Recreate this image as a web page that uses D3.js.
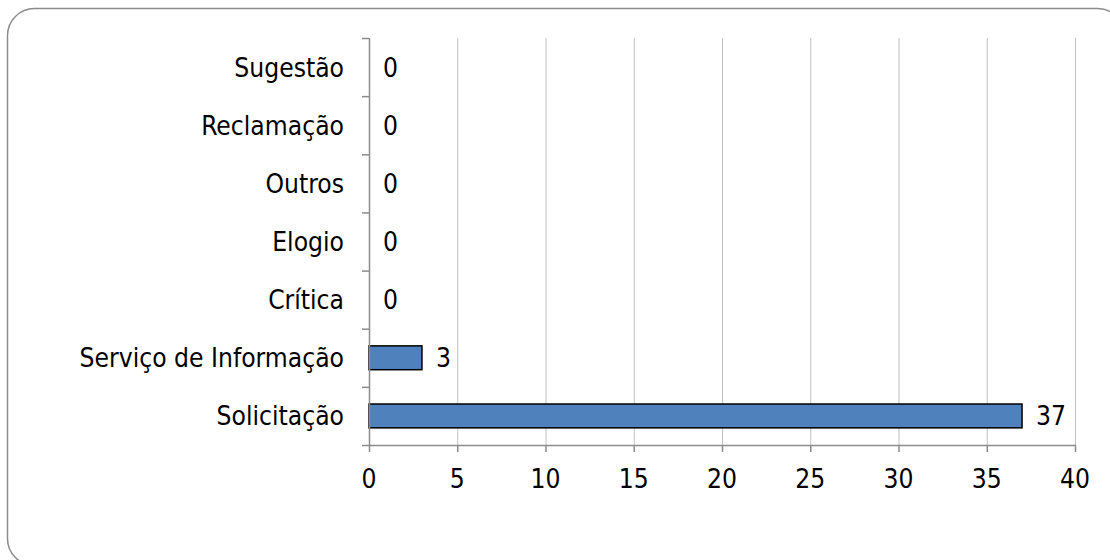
<!DOCTYPE html>
<html>
<head>
<meta charset="utf-8">
<script src="https://cdn.jsdelivr.net/npm/d3@7"></script>
<style>
  body { margin: 0; background: #fff; }
  svg { display: block; }
</style>
</head>
<body>
<div id="chart"></div>
<script>
// Chart data
const categories = ['Sugestão', 'Reclamação', 'Outros', 'Elogio', 'Crítica', 'Serviço de Informação', 'Solicitação'];
const values = [0, 0, 0, 0, 0, 3, 37];
const xTicks = [0, 5, 10, 15, 20, 25, 30, 35, 40];

const width = 1110, height = 560;
const font = 'Tahoma, "DejaVu Sans Condensed", "Open Sans", sans-serif';
const fontSize = 26.2;

let rows = categories.map((c, i) => ({ label: c, value: values[i] }));

let svg = d3.select('#chart').append('svg')
    .attr('width', width)
    .attr('height', height);

// Outer rounded frame
svg.append('rect')
    .attr('x', 7.5).attr('y', 8.5)
    .attr('width', 1117).attr('height', 557)
    .attr('rx', 27).attr('ry', 27)
    .attr('fill', '#fff')
    .attr('stroke', '#8c8c8c')
    .attr('stroke-width', 1.5);

// Plot area
let plotLeft = 369, plotRight = 1075, plotTop = 38, plotBottom = 445;

let xScale = d3.scaleLinear().domain([0, 40]).range([plotLeft, plotRight]);
let yScale = d3.scaleBand().domain(categories).range([plotTop, plotBottom]).paddingInner(0.59).paddingOuter(0.295);
let yBand = d3.scaleBand().domain(categories).range([plotTop, plotBottom]);

// Grid lines
svg.append('g').selectAll('line')
    .data(xTicks.slice(1))
    .enter().append('line')
    .attr('x1', d => xScale(d) + 0.5).attr('x2', d => xScale(d) + 0.5)
    .attr('y1', plotTop).attr('y2', plotBottom)
    .attr('stroke', '#c0c0c0').attr('stroke-width', 1);

// Bars
svg.append('g').selectAll('rect')
    .data(rows.filter(d => d.value > 0))
    .enter().append('rect')
    .attr('x', xScale(0))
    .attr('y', d => yScale(d.label))
    .attr('width', d => xScale(d.value) - xScale(0))
    .attr('height', yScale.bandwidth())
    .attr('fill', '#4f81bd')
    .attr('stroke', '#000')
    .attr('stroke-width', 1.5);

// Y axis line and ticks (ticks on band boundaries)
let axisColor = '#8c8c8c';
svg.append('line')
    .attr('x1', plotLeft + 0.5).attr('x2', plotLeft + 0.5)
    .attr('y1', plotTop).attr('y2', plotBottom)
    .attr('stroke', axisColor).attr('stroke-width', 1.5);

let yBounds = categories.map(c => yBand(c)).concat([plotBottom]);
svg.append('g').selectAll('line')
    .data(yBounds)
    .enter().append('line')
    .attr('x1', plotLeft - 7).attr('x2', plotLeft)
    .attr('y1', d => d + 0.5).attr('y2', d => d + 0.5)
    .attr('stroke', axisColor).attr('stroke-width', 1.5);

// X axis line and ticks
svg.append('line')
    .attr('x1', plotLeft).attr('x2', plotRight + 1)
    .attr('y1', plotBottom + 0.5).attr('y2', plotBottom + 0.5)
    .attr('stroke', axisColor).attr('stroke-width', 1.5);

svg.append('g').selectAll('line')
    .data(xTicks)
    .enter().append('line')
    .attr('x1', d => xScale(d) + 0.5).attr('x2', d => xScale(d) + 0.5)
    .attr('y1', plotBottom).attr('y2', plotBottom + 7)
    .attr('stroke', axisColor).attr('stroke-width', 1.5);

// X tick labels
svg.append('g').selectAll('text')
    .data(xTicks)
    .enter().append('text')
    .attr('x', d => xScale(d))
    .attr('y', 488)
    .attr('text-anchor', 'middle')
    .attr('font-family', font)
    .attr('font-size', fontSize)
    .attr('fill', '#000')
    .text(d => d);

// Category labels
svg.append('g').selectAll('text')
    .data(rows)
    .enter().append('text')
    .attr('x', 344)
    .attr('y', d => yBand(d.label) + yBand.bandwidth() / 2 + 9.5)
    .attr('text-anchor', 'end')
    .attr('font-family', font)
    .attr('font-size', fontSize)
    .attr('fill', '#000')
    .text(d => d.label);

// Value labels
svg.append('g').selectAll('text')
    .data(rows)
    .enter().append('text')
    .attr('x', d => xScale(d.value) + 14)
    .attr('y', d => yBand(d.label) + yBand.bandwidth() / 2 + 9.5)
    .attr('font-family', font)
    .attr('font-size', fontSize)
    .attr('fill', '#000')
    .text(d => d.value);
</script>
</body>
</html>
